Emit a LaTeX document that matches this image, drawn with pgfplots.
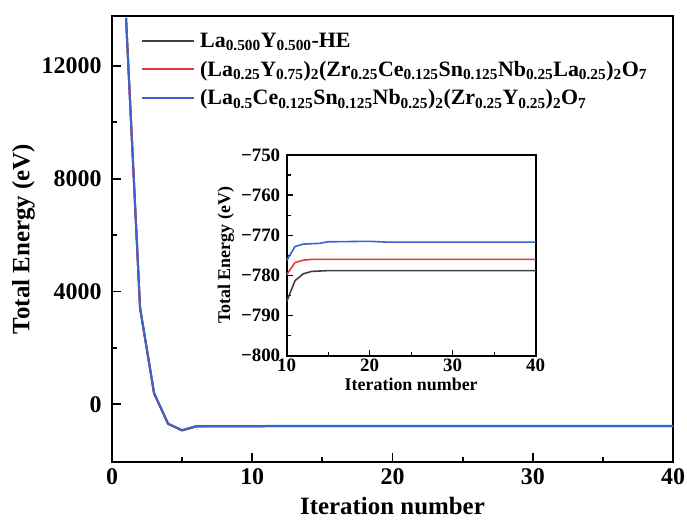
\documentclass[border=0pt]{standalone}
\usepackage{fontspec}
\setmainfont{Liberation Serif}
\usepackage{pgfplots}
\pgfplotsset{compat=1.18}
\usepackage{pgfplotstable}

\definecolor{cblack}{HTML}{404040}
\definecolor{cred}{HTML}{E8383D}
\definecolor{cblue}{HTML}{3A62D0}

% La0.500Y0.500-HE
\pgfplotstableread{
x y
1 13700
2 3400
3 380
4 -700
5 -930
6 -790
7 -785
8 -786
9 -786
10 -786.5
11 -781.3
12 -779.6
13 -779.0
14 -778.9
15 -778.8
20 -778.8
25 -778.8
30 -778.8
35 -778.8
40 -778.8
}\dataA

% (La0.25Y0.75)2(...)2O7
\pgfplotstableread{
x y
1 13700
2 3420
3 390
4 -695
5 -925
6 -785
7 -780
8 -780
9 -780
10 -779.8
11 -776.8
12 -776.2
13 -776.0
15 -776.0
20 -776.0
25 -776.0
30 -776.0
35 -776.0
40 -776.0
}\dataB

% (La0.5Ce0.125...)2(Zr0.25Y0.25)2O7
\pgfplotstableread{
x y
1 13700
2 3440
3 400
4 -690
5 -920
6 -780
7 -778
8 -777
9 -777
10 -776.3
11 -772.8
12 -772.2
13 -772.1
14 -772.0
15 -771.6
16 -771.6
20 -771.5
22 -771.7
25 -771.7
30 -771.7
35 -771.7
40 -771.7
}\dataC

\begin{document}
\begin{tikzpicture}
\useasboundingbox (-112bp,-59bp) rectangle (575bp,462bp);
\begin{axis}[
  at={(0bp,0bp)}, anchor=south west,
  scale only axis, width=561bp, height=446bp,
  xmin=0, xmax=40, ymin=-2050, ymax=13770,
  xtick={0,10,20,30,40}, ytick={0,4000,8000,12000},
  minor x tick num=1, minor y tick num=1,
  tick align=inside, xtick pos=bottom, ytick pos=left,
  major tick length=9bp, minor tick length=5bp,
  axis line style={line width=2.2bp},
  every tick/.style={line width=1.8bp, black},
  tick label style={font=\fontsize{24}{28}\selectfont\bfseries},
  yticklabel style={xshift=-7bp},
  xticklabel style={yshift=-3bp},
  /pgf/number format/assume math mode=true,
  /pgf/number format/1000 sep={},
  scaled y ticks=false,
  xlabel={Iteration number}, ylabel={Total Energy (eV)},
  label style={font=\fontsize{25}{28}\selectfont\bfseries},
  xlabel style={yshift=-6bp},
  ylabel style={yshift=0bp},
  legend style={at={(26bp,433bp)}, anchor=north west, draw=none, fill=none,
    font=\fontsize{22}{24}\selectfont\bfseries, row sep=8bp,
    nodes={inner xsep=5bp}},
  legend cell align=left,
  legend image code/.code={\draw[#1] (0bp,0bp) -- (52bp,0bp);},
]
\addplot[cblack, line width=2bp] table {\dataA};
\addlegendentry{La\textsubscript{0.500}Y\textsubscript{0.500}-HE}
\addplot[cred, line width=2bp] table {\dataB};
\addlegendentry{(La\textsubscript{0.25}Y\textsubscript{0.75})\textsubscript{2}(Zr\textsubscript{0.25}Ce\textsubscript{0.125}Sn\textsubscript{0.125}Nb\textsubscript{0.25}La\textsubscript{0.25})\textsubscript{2}O\textsubscript{7}}
\addplot[cblue, line width=2bp] table {\dataC};
\addlegendentry{(La\textsubscript{0.5}Ce\textsubscript{0.125}Sn\textsubscript{0.125}Nb\textsubscript{0.25})\textsubscript{2}(Zr\textsubscript{0.25}Y\textsubscript{0.25})\textsubscript{2}O\textsubscript{7}}
\end{axis}

\begin{axis}[
  at={(174.7bp,106.3bp)}, anchor=south west,
  scale only axis, width=249bp, height=200.7bp,
  xmin=10, xmax=40, ymin=-800, ymax=-750,
  xtick={10,20,30,40}, ytick={-800,-790,-780,-770,-760,-750},
  yticklabels={−800,−790,−780,−770,−760,−750},
  minor x tick num=1, minor y tick num=1,
  tick align=inside, xtick pos=bottom, ytick pos=left,
  major tick length=6bp, minor tick length=4bp,
  axis line style={line width=1.8bp},
  every tick/.style={line width=1.4bp, black},
  tick label style={font=\fontsize{19}{22}\selectfont\bfseries},
  yticklabel style={xshift=-3bp},
  /pgf/number format/assume math mode=true,
  xlabel={Iteration number}, ylabel={Total Energy (eV)},
  label style={font=\fontsize{18}{20}\selectfont\bfseries},
  xlabel style={yshift=1bp},
  restrict x to domain=10:40,
]
\addplot[cblack, line width=1.6bp] table {\dataA};
\addplot[cred, line width=1.6bp] table {\dataB};
\addplot[cblue, line width=1.6bp] table {\dataC};
\end{axis}
\end{tikzpicture}
\end{document}
